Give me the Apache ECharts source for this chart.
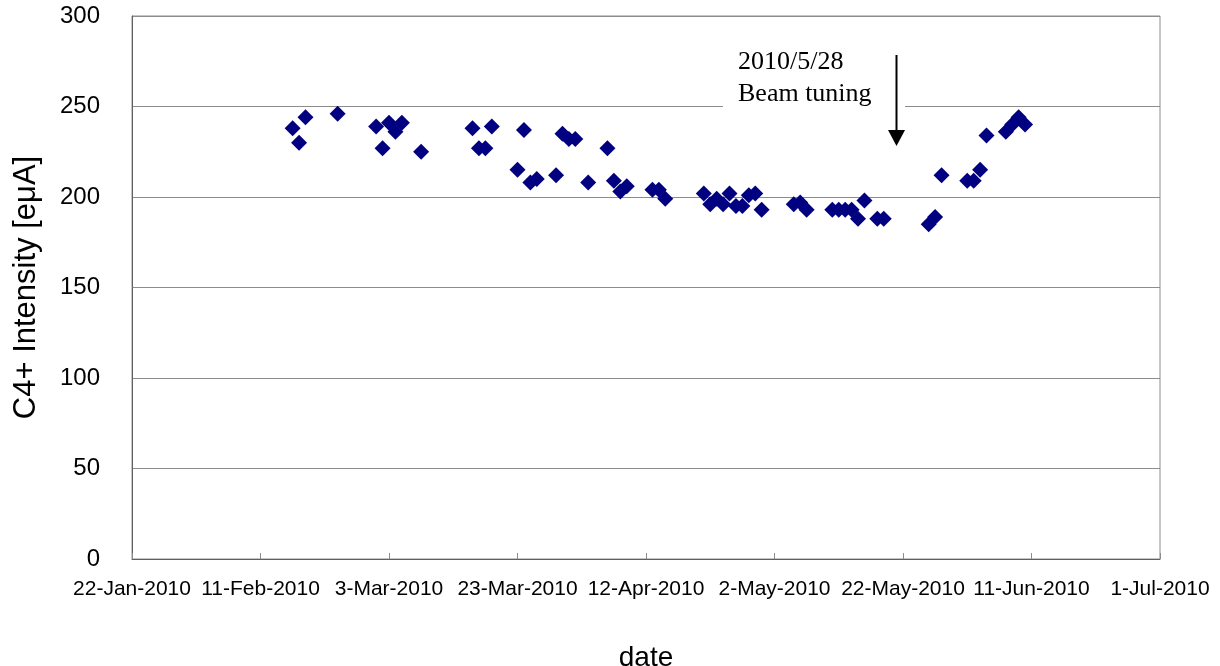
<!DOCTYPE html>
<html>
<head>
<meta charset="utf-8">
<script src="https://cdn.jsdelivr.net/npm/echarts@6/dist/echarts.min.js"></script>
<style>
  html, body { margin: 0; padding: 0; background: #fff; }
  #chart { width: 1220px; height: 666px; }
</style>
</head>
<body>
<div id="chart"></div>
<script>
// measurement dates and C4+ beam intensity (eμA)
const dates = [
  '2010-02-16', '2010-02-17', '2010-02-18', '2010-02-23',
  '2010-03-01', '2010-03-02', '2010-03-03', '2010-03-04', '2010-03-05', '2010-03-08',
  '2010-03-16', '2010-03-17', '2010-03-18', '2010-03-19',
  '2010-03-23', '2010-03-24', '2010-03-25', '2010-03-26',
  '2010-03-29', '2010-03-30', '2010-03-31', '2010-04-01', '2010-04-03',
  '2010-04-06', '2010-04-07', '2010-04-08', '2010-04-09',
  '2010-04-13', '2010-04-14', '2010-04-15',
  '2010-04-21', '2010-04-22', '2010-04-23', '2010-04-24', '2010-04-25',
  '2010-04-26', '2010-04-27', '2010-04-28', '2010-04-29', '2010-04-30',
  '2010-05-05', '2010-05-06', '2010-05-07',
  '2010-05-11', '2010-05-12', '2010-05-13', '2010-05-14', '2010-05-15', '2010-05-16',
  '2010-05-18', '2010-05-19',
  '2010-05-26', '2010-05-27', '2010-05-28',
  '2010-06-01', '2010-06-02', '2010-06-03', '2010-06-04',
  '2010-06-07', '2010-06-08', '2010-06-09', '2010-06-10'
]
const intensity = [
  238, 230, 244, 246,
  239, 227, 241, 236, 241, 225,
  238, 227, 227, 239,
  215, 237, 208, 210,
  212, 235, 232, 232, 208,
  227, 209, 203, 206,
  204, 204, 199,
  202, 196, 199, 196, 202,
  195, 195, 201, 202, 193,
  196, 197, 193,
  193, 193, 193, 193, 188, 198,
  188, 188,
  185, 189, 212,
  209, 209, 215, 234,
  236, 240, 244, 240
]
const monthNames = ['Jan', 'Feb', 'Mar', 'Apr', 'May', 'Jun', 'Jul', 'Aug', 'Sep', 'Oct', 'Nov', 'Dec']

// x axis is in spreadsheet day numbers (22-Jan-2010 = 40200)
const xMin = 40200
const xMax = 40360
const xStep = 20
const EPOCH = Date.UTC(1899, 11, 30)
const DAY = 86400000

function toSerial(s) {
  const p = s.split('-').map(Number)
  return Math.round((Date.UTC(p[0], p[1] - 1, p[2]) - EPOCH) / DAY)
}
function serialLabel(v) {
  const d = new Date(EPOCH + v * DAY)
  return d.getUTCDate() + '-' + monthNames[d.getUTCMonth()] + '-' + d.getUTCFullYear()
}

const points = dates.map((d, i) => [toSerial(d), intensity[i]])

const myChart = echarts.init(document.getElementById('chart'))

myChart.setOption({
  animation: false,
  backgroundColor: '#fff',
  textStyle: { fontFamily: '"Liberation Sans", Arial, sans-serif' },
  grid: {
    left: 132, right: 60, top: 16, bottom: 107,
    containLabel: false,
    outerBoundsMode: 'none',
    show: true, borderColor: '#8c8c8c', borderWidth: 1
  },
  xAxis: {
    type: 'value',
    min: xMin, max: xMax, interval: xStep,
    name: 'date',
    nameLocation: 'middle',
    nameGap: 85,
    nameMoveOverlap: false,
    nameTextStyle: { fontSize: 28, color: '#000' },
    axisLine: { show: true, lineStyle: { color: '#606060', width: 1 } },
    axisTick: { show: true, inside: true, length: 6, lineStyle: { color: '#8c8c8c' } },
    axisLabel: {
      color: '#000', fontSize: 21, margin: 20,
      showMinLabel: true, showMaxLabel: true,
      formatter: serialLabel
    },
    splitLine: { show: false }
  },
  yAxis: {
    type: 'value',
    min: 0, max: 300, interval: 50,
    name: 'C4+ Intensity [eμA]',
    nameLocation: 'middle',
    nameGap: 90,
    nameMoveOverlap: false,
    nameTextStyle: { fontSize: 31, color: '#000' },
    axisLine: { show: true, lineStyle: { color: '#606060', width: 1 } },
    axisTick: { show: false },
    axisLabel: { color: '#000', fontSize: 24, margin: 32 },
    splitLine: { show: true, lineStyle: { color: '#8c8c8c', width: 1 } }
  },
  series: [{
    type: 'scatter',
    symbol: 'diamond',
    symbolSize: 16,
    itemStyle: { color: '#000080', opacity: 1 },
    data: points
  }],
  // annotation box with the beam tuning arrow
  graphic: [
    {
      type: 'rect', z: 50,
      shape: { x: 723, y: 46, width: 182, height: 66 },
      style: { fill: '#fff' }
    },
    {
      type: 'text', z: 51, left: 738, top: 46,
      style: {
        text: '2010/5/28\nBeam tuning',
        font: '26px "Liberation Serif", "Times New Roman", serif',
        lineHeight: 32,
        fill: '#000'
      }
    },
    {
      type: 'line', z: 51,
      shape: { x1: 896.5, y1: 55, x2: 896.5, y2: 132 },
      style: { stroke: '#000', lineWidth: 2 }
    },
    {
      type: 'polygon', z: 51,
      shape: { points: [[888, 130], [905, 130], [896.5, 146]] },
      style: { fill: '#000' }
    }
  ]
})
</script>
</body>
</html>
